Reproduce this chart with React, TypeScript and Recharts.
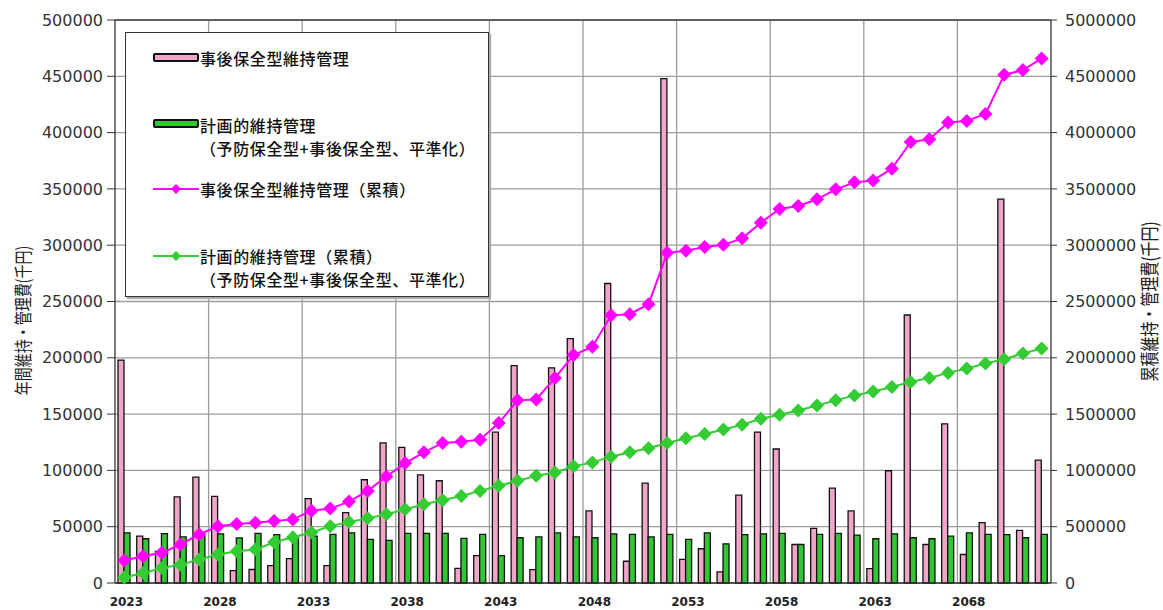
import {
  Bar,
  CartesianGrid,
  ComposedChart,
  Line,
  ReferenceLine,
  XAxis,
  YAxis,
} from "recharts";

const years = [
  "2023", "2024", "2025", "2026", "2027", "2028", "2029", "2030", "2031", "2032",
  "2033", "2034", "2035", "2036", "2037", "2038", "2039", "2040", "2041", "2042",
  "2043", "2044", "2045", "2046", "2047", "2048", "2049", "2050", "2051", "2052",
  "2053", "2054", "2055", "2056", "2057", "2058", "2059", "2060", "2061", "2062",
  "2063", "2064", "2065", "2066", "2067", "2068", "2069", "2070", "2071", "2072",
];

// 事後保全型維持管理 (annual, 千円)
const correctiveAnnual = [
  198000, 41700, 28000, 76500, 94000, 77000, 11000, 12000, 15500, 21700,
  75000, 15500, 62500, 91700, 124400, 120500, 96000, 90800, 13000, 24400,
  134000, 193000, 11900, 191000, 217000, 64000, 266000, 19300, 88700, 448000,
  21000, 30400, 9800, 78000, 134000, 119000, 34200, 48500, 84200, 64000,
  12800, 99700, 238000, 34200, 141400, 25300, 53600, 341000, 46700, 109200,
];

// 計画的維持管理 (annual, 千円)
const plannedAnnual = [
  44600, 39300, 43800, 41000, 42000, 43700, 40000, 44000, 43000, 40500,
  41700, 43200, 44600, 38700, 37800, 44000, 44000, 44000, 39600, 43200,
  24400, 40200, 41000, 44600, 41000, 40200, 43700, 43200, 41000, 43200,
  38700, 44600, 34800, 42900, 43700, 44000, 34200, 43200, 44000, 42600,
  39300, 43700, 40200, 39300, 41700, 44600, 43200, 42900, 40200, 43200,
];

// 累積 (right axis)
const correctiveCumulative = [
  200000, 238000, 268000, 342000, 431000, 505000, 525000, 536000, 550000, 565000,
  642000, 661000, 723000, 818000, 946000, 1065000, 1161000, 1244000, 1255000, 1273000,
  1420000, 1622000, 1630000, 1821000, 2024000, 2098000, 2377000, 2387000, 2476000, 2932000,
  2950000, 2985000, 3003000, 3061000, 3200000, 3322000, 3349000, 3408000, 3496000, 3558000,
  3575000, 3680000, 3916000, 3940000, 4089000, 4104000, 4166000, 4513000, 4555000, 4659000,
];

const plannedCumulative = [
  48000, 89000, 134000, 163000, 208000, 253000, 282000, 297000, 362000, 407000,
  449000, 505000, 541000, 574000, 610000, 654000, 699000, 735000, 773000, 818000,
  863000, 907000, 952000, 982000, 1036000, 1071000, 1122000, 1161000, 1196000, 1244000,
  1286000, 1324000, 1363000, 1405000, 1458000, 1494000, 1532000, 1577000, 1622000, 1666000,
  1701000, 1741000, 1786000, 1821000, 1866000, 1905000, 1949000, 1988000, 2039000, 2083000,
];

const leftTicks = [0, 50000, 100000, 150000, 200000, 250000, 300000, 350000, 400000, 450000, 500000];
const rightTicks = [0, 500000, 1000000, 1500000, 2000000, 2500000, 3000000, 3500000, 4000000, 4500000, 5000000];
// vertical grid lines sit at the left edge of every 5th category
const gridCategoryIdx = [5, 10, 15, 20, 25, 30, 35, 40, 45];

const PINK_BAR = "#f0a6c8";
const GREEN_BAR = "#33c633";
const PINK_LINE = "#ff00ff";
const GREEN_LINE = "#33cc33";

const data = years.map((year, i) => ({
  year,
  corrective: correctiveAnnual[i],
  planned: plannedAnnual[i],
  correctiveCum: correctiveCumulative[i],
  plannedCum: plannedCumulative[i],
}));

const diamond = (color: string, r: number) => (props: any) => {
  const { cx, cy, index } = props;
  if (cx == null || cy == null) return <g key={`d-${index}`} />;
  return (
    <polygon
      key={`d-${color}-${index}`}
      points={`${cx},${cy - r} ${cx + r},${cy} ${cx},${cy + r} ${cx - r},${cy}`}
      fill={color}
    />
  );
};

const axisFont = "'DejaVu Sans', sans-serif";
const jpFont = "'Noto Sans CJK JP', sans-serif";

const BarSwatch = ({ color, top }: { color: string; top: number }) => (
  <div
    style={{
      position: "absolute",
      left: 27,
      top,
      width: 42,
      height: 5,
      background: color,
      border: "2px solid #111",
      borderRadius: 2,
    }}
  />
);

const LineSwatch = ({ color, top }: { color: string; top: number }) => (
  <svg style={{ position: "absolute", left: 27, top: top - 6 }} width={46} height={12}>
    <line x1={0} y1={6} x2={46} y2={6} stroke={color} strokeWidth={2} />
    <polygon points="23,1 28,6 23,11 18,6" fill={color} />
  </svg>
);

const LegendText = ({ top, children }: { top: number; children: any }) => (
  <div
    style={{
      position: "absolute",
      left: 74,
      top: top - 10,
      height: 20,
      lineHeight: "20px",
      fontSize: 16,
      fontWeight: 500,
      letterSpacing: 0.6,
      fontFamily: jpFont,
      color: "#111",
      whiteSpace: "nowrap",
    }}
  >
    {children}
  </div>
);

const ChartLegend = () => (
  <div
    style={{
      position: "absolute",
      left: 125,
      top: 32,
      width: 362,
      height: 263,
      background: "#fff",
      border: "1px solid #333",
      boxShadow: "2px 2px 1px #aaa",
    }}
  >
    <BarSwatch color={PINK_BAR} top={20} />
    <LegendText top={25}>事後保全型維持管理</LegendText>
    <BarSwatch color={GREEN_BAR} top={86} />
    <LegendText top={92}>計画的維持管理</LegendText>
    <LegendText top={115}>（予防保全型+事後保全型、平準化）</LegendText>
    <LineSwatch color={PINK_LINE} top={156} />
    <LegendText top={156}>事後保全型維持管理（累積）</LegendText>
    <LineSwatch color={GREEN_LINE} top={223} />
    <LegendText top={223}>計画的維持管理（累積）</LegendText>
    <LegendText top={246}>（予防保全型+事後保全型、平準化）</LegendText>
  </div>
);

// vertical axis titles; the glyphs are a little wider than tall in the original
const axisTitle = (text: string, x: number, shift: number, size: number) => (props: any) => {
  const vb = props.viewBox || {};
  const cy = (vb.y ?? 20) + (vb.height ?? 563) / 2 + shift;
  return (
    <text
      x={0}
      y={0}
      transform={`translate(${x}, ${cy}) rotate(-90) scale(1, 1.3)`}
      textAnchor="middle"
      dominantBaseline="central"
      fontSize={size}
      fontFamily={jpFont}
      fill="#222"
    >
      {text}
    </text>
  );
};

export default function App() {
  return (
    <div style={{ position: "absolute", left: 0, top: 0, width: 1163, height: 610, background: "#fff" }}>
      <ComposedChart
        width={1163}
        height={610}
        data={data}
        margin={{ top: 20, right: 0, left: 0, bottom: 0 }}
        barGap={0}
      >
        <CartesianGrid
          stroke="#9c9c9c"
          strokeWidth={1.3}
          verticalCoordinatesGenerator={(p: any) => {
            const left = p?.offset?.left ?? 115;
            const w = p?.offset?.width ?? 936;
            return gridCategoryIdx.map((i) => left + (w * i) / years.length);
          }}
        />
        <XAxis
          dataKey="year"
          interval={4}
          tickLine={false}
          tickSize={6}
          tickMargin={8}
          height={27}
          axisLine={{ stroke: "#333", strokeWidth: 1.3 }}
          tick={{ fontSize: 12, fontWeight: 700, fill: "#222", fontFamily: axisFont, dx: 2 }}
        />
        <YAxis
          domain={[0, 500000]}
          ticks={leftTicks}
          width={115}
          tickSize={8}
          tickMargin={4}
          axisLine={{ stroke: "#333", strokeWidth: 1.3 }}
          tickLine={{ stroke: "#333" }}
          tick={{ fontSize: 16, fill: "#333", fontFamily: axisFont }}
          label={axisTitle("年間維持・管理費(千円)", 22, 19, 14)}
        />
        <YAxis
          yAxisId="right"
          orientation="right"
          domain={[0, 5000000]}
          ticks={rightTicks}
          width={112}
          tickSize={6}
          tickMargin={8}
          axisLine={{ stroke: "#333", strokeWidth: 1.3 }}
          tickLine={{ stroke: "#333" }}
          tick={{ fontSize: 16, fill: "#333", fontFamily: axisFont }}
          label={axisTitle("累積維持・管理費(千円)", 1149, 0, 15)}
        />
        <ReferenceLine y={500000} stroke="#444" strokeWidth={1.3} />
        <Bar dataKey="corrective" fill={PINK_BAR} stroke="#111" strokeWidth={1.3} barSize={6} isAnimationActive={false} />
        <Bar dataKey="planned" fill={GREEN_BAR} stroke="#111" strokeWidth={1.3} barSize={6} isAnimationActive={false} />
        <Line
          yAxisId="right"
          dataKey="correctiveCum"
          stroke={PINK_LINE}
          strokeWidth={2}
          dot={diamond(PINK_LINE, 7)}
          activeDot={false}
          isAnimationActive={false}
        />
        <Line
          yAxisId="right"
          dataKey="plannedCum"
          stroke={GREEN_LINE}
          strokeWidth={2}
          dot={diamond(GREEN_LINE, 7)}
          activeDot={false}
          isAnimationActive={false}
        />
      </ComposedChart>
      <ChartLegend />
    </div>
  );
}
